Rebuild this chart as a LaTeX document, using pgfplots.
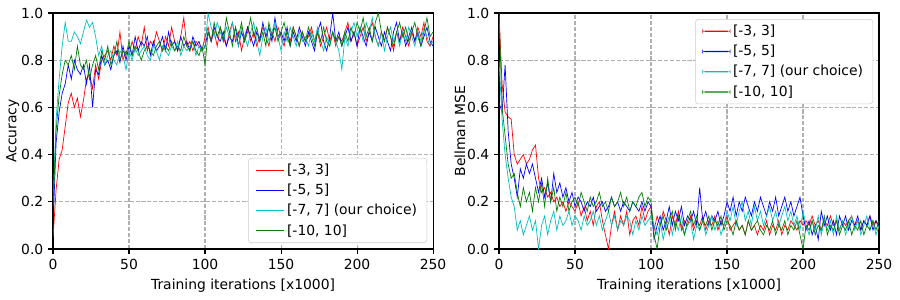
\documentclass[border=0pt]{standalone}
\usepackage{pgfplots}
\pgfplotsset{compat=1.18}
\usepackage{pgfplotstable}
\usepackage{fontspec}
\setmainfont{DejaVu Sans}
\definecolor{mplr}{rgb}{1,0,0}
\definecolor{mplb}{rgb}{0,0,1}
\definecolor{mplc}{rgb}{0,0.75,0.75}
\definecolor{mplg}{rgb}{0,0.5,0}
\definecolor{gridgray}{rgb}{0.69,0.69,0.69}
\definecolor{legframe}{rgb}{0.8,0.8,0.8}

\pgfplotstableread{
x r b c g
0 0.05 0.10 0.20 0.18
2 0.25 0.45 0.55 0.50
4 0.38 0.58 0.72 0.65
6 0.42 0.66 0.86 0.74
8 0.52 0.70 0.96 0.80
10 0.62 0.78 0.88 0.78
12 0.66 0.72 0.88 0.82
14 0.60 0.80 0.92 0.76
16 0.64 0.76 0.90 0.86
18 0.56 0.74 0.87 0.78
20 0.63 0.78 0.92 0.76
22 0.72 0.70 0.97 0.80
24 0.74 0.78 0.94 0.72
26 0.68 0.60 0.96 0.78
28 0.78 0.76 0.90 0.82
30 0.72 0.74 0.82 0.76
32 0.80 0.82 0.86 0.84
34 0.82 0.78 0.78 0.80
36 0.84 0.80 0.82 0.86
38 0.80 0.76 0.84 0.78
40 0.86 0.82 0.80 0.82
42 0.82 0.84 0.78 0.88
44 0.92 0.79 0.84 0.80
46 0.80 0.86 0.82 0.84
48 0.84 0.80 0.76 0.82
50 0.82 0.86 0.84 0.88
52 0.88 0.82 0.80 0.82
54 0.84 0.90 0.85 0.86
56 0.90 0.84 0.82 0.84
58 0.86 0.88 0.84 0.80
60 0.94 0.86 0.86 0.84
62 0.84 0.90 0.82 0.86
64 0.88 0.82 0.80 0.84
66 0.86 0.88 0.86 0.82
68 0.92 0.84 0.84 0.86
70 0.88 0.86 0.80 0.88
72 0.84 0.90 0.86 0.84
74 0.90 0.84 0.84 0.86
76 0.86 0.92 0.82 0.84
78 0.94 0.86 0.86 0.88
80 0.88 0.88 0.84 0.84
82 0.84 0.84 0.88 0.86
84 0.90 0.90 0.82 0.84
86 0.98 0.86 0.86 0.90
88 0.86 0.88 0.84 0.86
90 0.88 0.84 0.86 0.84
92 0.84 0.90 0.88 0.88
94 0.88 0.86 0.82 0.84
96 0.86 0.88 0.86 0.82
98 0.84 0.84 0.84 0.86
100 0.90 0.86 0.86 0.78
102 0.94 0.92 1.00 0.92
104 0.88 0.88 0.94 0.88
106 0.92 0.94 0.90 0.96
108 0.86 0.90 0.96 0.90
110 0.94 0.88 0.92 0.94
112 0.90 0.92 0.88 0.88
114 0.86 0.86 0.94 0.98
116 0.92 0.90 0.90 0.92
118 0.96 0.88 0.96 0.86
120 0.88 0.94 0.90 0.94
122 0.92 0.86 0.86 0.90
124 0.84 0.92 0.94 0.96
126 0.90 0.88 0.90 0.88
128 0.94 0.94 0.86 0.92
130 0.88 0.90 0.92 0.98
132 0.92 0.86 0.96 0.90
134 0.86 0.92 0.88 0.94
136 0.90 0.88 0.82 0.88
138 0.94 0.96 0.90 0.92
140 0.90 0.90 0.94 0.86
142 0.86 0.94 0.88 0.96
144 0.92 0.88 0.92 0.90
146 0.88 0.98 0.96 0.94
148 0.94 0.90 0.90 0.88
150 0.90 0.92 0.84 0.92
152 0.86 0.88 0.92 0.96
154 0.92 0.94 0.88 0.90
156 0.88 0.86 0.94 0.86
158 0.94 0.92 0.90 0.94
160 0.90 0.88 0.86 0.90
162 0.86 0.94 0.92 0.86
164 0.92 0.90 0.88 0.92
166 0.88 0.86 0.90 0.88
168 0.90 0.92 0.86 0.94
170 0.94 0.88 0.92 0.90
172 0.88 0.84 0.88 0.86
174 0.92 0.92 0.94 0.92
176 0.86 0.96 0.88 0.88
178 0.90 0.88 0.84 0.94
180 0.94 0.84 0.90 0.88
182 0.88 0.90 0.86 0.86
184 0.92 1.00 0.92 0.92
186 0.86 0.88 0.88 0.88
188 0.90 0.92 0.84 0.90
190 0.88 0.86 0.76 0.86
192 0.92 0.90 0.90 0.92
194 0.96 0.94 0.86 0.88
196 0.88 0.88 0.92 0.94
198 0.92 0.92 0.96 0.90
200 0.86 0.86 0.90 0.96
202 0.90 0.94 0.94 0.92
204 0.94 0.90 0.88 0.98
206 0.88 0.86 0.96 0.90
208 0.92 0.92 0.92 0.94
210 0.96 0.88 0.98 0.88
212 0.90 0.94 0.90 0.96
214 0.86 0.90 0.86 1.00
216 0.92 0.86 0.92 0.92
218 0.88 0.92 0.84 0.88
220 0.94 0.88 0.90 0.94
222 0.90 0.84 0.94 0.90
224 0.84 0.92 0.88 0.86
226 0.92 0.96 0.92 0.92
228 0.88 0.88 0.86 0.96
230 0.94 0.92 0.92 0.90
232 0.90 0.86 0.88 0.94
234 0.86 0.90 0.94 0.88
236 0.92 0.94 0.90 0.92
238 0.88 0.88 0.86 0.96
240 0.94 0.92 0.92 0.90
242 0.90 0.86 0.88 0.86
244 0.96 0.90 0.94 0.92
246 0.88 0.94 0.90 0.98
248 0.86 0.88 0.86 0.90
250 0.90 0.86 0.88 0.92
}\acctable

\pgfplotstableread{
x r b c g
0 1.00 0.62 0.80 1.00
2 0.70 0.58 0.55 0.60
4 0.58 0.78 0.40 0.48
6 0.56 0.50 0.30 0.36
8 0.55 0.36 0.22 0.30
10 0.40 0.30 0.18 0.32
12 0.36 0.22 0.08 0.24
14 0.38 0.34 0.12 0.18
16 0.40 0.30 0.06 0.26
18 0.36 0.36 0.10 0.20
20 0.38 0.32 0.14 0.24
22 0.42 0.36 0.08 0.16
24 0.44 0.30 0.12 0.26
26 0.30 0.24 0.00 0.20
28 0.24 0.30 0.10 0.28
30 0.26 0.22 0.14 0.18
32 0.22 0.28 0.06 0.30
34 0.24 0.20 0.12 0.20
36 0.20 0.32 0.16 0.26
38 0.22 0.24 0.08 0.16
40 0.18 0.28 0.14 0.22
42 0.20 0.22 0.10 0.18
44 0.16 0.26 0.12 0.24
46 0.20 0.20 0.16 0.16
48 0.18 0.24 0.10 0.20
50 0.16 0.18 0.14 0.22
52 0.20 0.22 0.12 0.18
54 0.14 0.20 0.08 0.24
56 0.18 0.16 0.14 0.20
58 0.12 0.20 0.10 0.16
60 0.16 0.18 0.12 0.22
62 0.10 0.22 0.16 0.18
64 0.18 0.16 0.10 0.20
66 0.20 0.18 0.14 0.24
68 0.12 0.20 0.08 0.18
70 0.06 0.16 0.12 0.20
72 0.00 0.18 0.16 0.16
74 0.10 0.22 0.10 0.22
76 0.16 0.18 0.14 0.18
78 0.08 0.20 0.08 0.20
80 0.14 0.16 0.12 0.24
82 0.10 0.20 0.10 0.18
84 0.16 0.18 0.14 0.22
86 0.06 0.16 0.12 0.16
88 0.12 0.20 0.06 0.20
90 0.14 0.18 0.12 0.18
92 0.10 0.16 0.08 0.22
94 0.18 0.20 0.14 0.24
96 0.12 0.16 0.10 0.18
98 0.16 0.20 0.12 0.22
100 0.18 0.18 0.14 0.20
102 0.08 0.04 0.10 0.06
104 0.14 0.10 0.06 0.00
106 0.10 0.14 0.12 0.10
108 0.16 0.08 0.04 0.14
110 0.12 0.12 0.10 0.08
112 0.06 0.18 0.14 0.12
114 0.14 0.10 0.06 0.16
116 0.10 0.16 0.12 0.08
118 0.16 0.12 0.08 0.14
120 0.08 0.18 0.14 0.10
122 0.12 0.10 0.06 0.06
124 0.10 0.14 0.10 0.12
126 0.14 0.12 0.12 0.16
128 0.08 0.16 0.04 0.10
130 0.12 0.10 0.10 0.14
132 0.10 0.26 0.08 0.08
134 0.14 0.12 0.12 0.12
136 0.08 0.16 0.06 0.10
138 0.12 0.10 0.10 0.14
140 0.10 0.14 0.14 0.08
142 0.14 0.12 0.08 0.12
144 0.08 0.16 0.12 0.10
146 0.12 0.10 0.06 0.14
148 0.10 0.14 0.10 0.08
150 0.14 0.20 0.16 0.12
152 0.08 0.16 0.12 0.10
154 0.10 0.22 0.18 0.06
156 0.12 0.14 0.10 0.12
158 0.08 0.20 0.16 0.08
160 0.10 0.16 0.20 0.10
162 0.06 0.22 0.12 0.06
164 0.12 0.18 0.16 0.12
166 0.08 0.14 0.10 0.08
168 0.10 0.20 0.18 0.10
170 0.06 0.16 0.12 0.12
172 0.10 0.22 0.16 0.08
174 0.08 0.18 0.10 0.06
176 0.12 0.14 0.14 0.10
178 0.06 0.20 0.18 0.08
180 0.10 0.16 0.12 0.12
182 0.08 0.22 0.16 0.06
184 0.12 0.14 0.10 0.10
186 0.06 0.18 0.14 0.08
188 0.10 0.22 0.18 0.12
190 0.08 0.16 0.12 0.06
192 0.12 0.20 0.16 0.10
194 0.10 0.14 0.10 0.08
196 0.08 0.18 0.14 0.12
198 0.12 0.22 0.08 0.06
200 0.10 0.14 0.16 0.00
202 0.12 0.08 0.10 0.10
204 0.10 0.12 0.06 0.08
206 0.14 0.06 0.12 0.12
208 0.10 0.10 0.08 0.06
210 0.12 0.04 0.14 0.10
212 0.08 0.16 0.06 0.08
214 0.12 0.10 0.12 0.14
216 0.10 0.14 0.08 0.06
218 0.14 0.08 0.12 0.10
220 0.10 0.12 0.06 0.08
222 0.12 0.06 0.14 0.12
224 0.08 0.14 0.08 0.06
226 0.12 0.10 0.12 0.10
228 0.10 0.14 0.06 0.08
230 0.12 0.08 0.10 0.12
232 0.14 0.12 0.14 0.06
234 0.10 0.10 0.08 0.10
236 0.12 0.14 0.12 0.08
238 0.08 0.08 0.06 0.12
240 0.12 0.12 0.10 0.06
242 0.10 0.10 0.14 0.10
244 0.14 0.14 0.08 0.08
246 0.10 0.08 0.12 0.12
248 0.12 0.12 0.06 0.08
250 0.08 0.10 0.10 0.12
}\msetable

\pgfplotsset{
  mplaxis/.style={
    scale only axis,
    width=273.6pt, height=169.9pt,
    xmin=0, xmax=250, ymin=0, ymax=1,
    xtick={0,50,100,150,200,250},
    ytick={0,0.2,0.4,0.6,0.8,1.0},
    yticklabel style={/pgf/number format/.cd,fixed,fixed zerofill,precision=1},
    /pgf/number format/assume math mode=true,
    tick label style={font=\fontsize{10}{12}\selectfont},
    label style={font=\fontsize{10}{12}\selectfont},
    xtick pos=bottom, ytick pos=left,
    tick align=outside,
    major tick length=3.5pt,
    every tick/.style={black, line width=0.8pt},
    axis line style={line width=0.8pt},
    grid=major,
    grid style={color=gridgray, line width=0.8pt, dash pattern=on 2.96pt off 1.28pt},
    xlabel={Training iterations [x1000]},
    ylabel style={yshift=-5.5pt},
    legend cell align=left,
    legend style={font=\fontsize{10}{12}\selectfont, draw=legframe, fill=white, rounded corners=2pt, row sep=1.5pt, inner xsep=5pt, inner ysep=2pt},
    every axis plot/.append style={line width=0.5pt},
  }
}

\begin{document}
\begin{tikzpicture}
\useasboundingbox (0,0) rectangle (648pt,216pt);
\begin{axis}[mplaxis,
  at={(38.2pt,36.7pt)}, anchor=south west,
  ylabel={Accuracy},
  legend image code/.code={\draw[#1, line width=0.8pt] plot coordinates {(0pt,0pt) (20pt,0pt)};},
  legend style={at={(1,0)}, anchor=south east, xshift=-4.3pt, yshift=4.3pt}]
\addplot[color=mplr] table[x=x,y=r] {\acctable};
\addlegendentry{\relax[-3, 3]}
\addplot[color=mplb] table[x=x,y=b] {\acctable};
\addlegendentry{\relax[-5, 5]}
\addplot[color=mplc] table[x=x,y=c] {\acctable};
\addlegendentry{\relax[-7, 7] (our choice)}
\addplot[color=mplg] table[x=x,y=g] {\acctable};
\addlegendentry{\relax[-10, 10]}
\end{axis}
\begin{axis}[mplaxis,
  at={(359.3pt,36.7pt)}, anchor=south west,
  ylabel={Bellman MSE},
  legend image code/.code={\fill[#1, draw=none] (0pt,-0.45pt) rectangle (20pt,0.45pt);},
  legend style={at={(1,1)}, anchor=north east, xshift=-4.3pt, yshift=-4.3pt}]
\addplot[color=mplr] table[x=x,y=r] {\msetable};
\addlegendentry{\relax[-3, 3]}
\addplot[color=mplb] table[x=x,y=b] {\msetable};
\addlegendentry{\relax[-5, 5]}
\addplot[color=mplc] table[x=x,y=c] {\msetable};
\addlegendentry{\relax[-7, 7] (our choice)}
\addplot[color=mplg] table[x=x,y=g] {\msetable};
\addlegendentry{\relax[-10, 10]}
\end{axis}
\end{tikzpicture}
\end{document}
